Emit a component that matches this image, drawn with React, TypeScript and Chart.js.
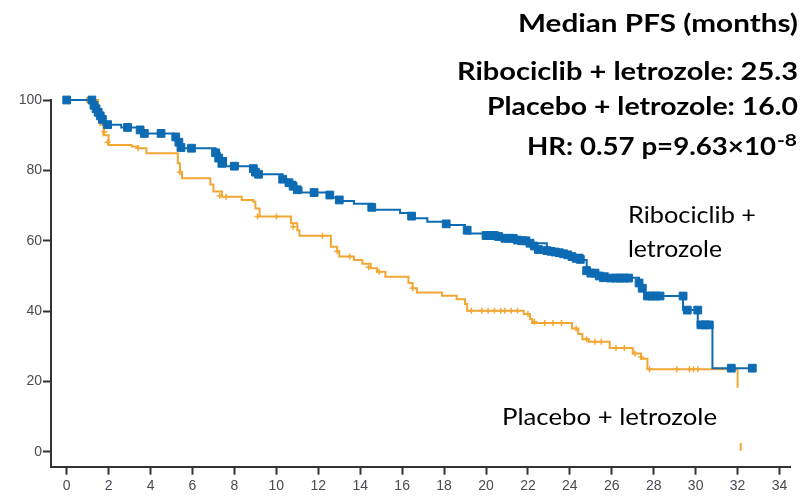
import React, { useEffect, useRef } from 'react';
import { Chart, registerables } from 'chart.js';

Chart.register(...registerables);

// ---- Data ----
const xTickValues = [0, 2, 4, 6, 8, 10, 12, 14, 16, 18, 20, 22, 24, 26, 28, 30, 32, 34];
const yTickValues = [0, 20, 40, 60, 80, 100];

// Ribociclib + letrozole KM curve (months, % PFS)
const ribTime = [0, 1.25, 1.4, 1.55, 1.75, 2.6, 3.5, 3.7, 5.1, 5.3, 5.45, 7.1, 7.3, 7.6, 8.9, 9.1, 10.3, 10.5, 10.9, 11.2, 12.6, 13.0, 13.7, 14.6, 15.9, 16.5, 17.2, 18.1, 19.0, 19.1, 20.0, 20.8, 21.5, 22.1, 22.9, 23.5, 23.9, 24.6, 24.8, 24.9, 25.8, 27.3, 27.6, 29.4, 30.1, 30.8, 32.7];
const ribSurv = [100, 98.5, 97, 95, 93, 92.2, 91, 90.5, 89.5, 88, 86.3, 85, 83.5, 81.2, 80, 78.9, 77.5, 76.8, 75, 73.7, 72.3, 71.3, 70.5, 68.8, 67.9, 66.4, 65.4, 64.5, 63.5, 62.1, 61.5, 60.7, 60, 59.3, 57.4, 56.6, 56, 54.5, 52.5, 50.8, 49.5, 47.4, 44.3, 40.3, 36.1, 23.8, 23.8];
const ribCensTime = [0, 1.2, 1.3, 1.4, 1.5, 1.6, 1.7, 1.95, 2.9, 3.5, 3.7, 4.5, 5.2, 5.35, 5.45, 5.95, 7.1, 7.25, 7.4, 8.0, 8.9, 9.0, 9.15, 10.3, 10.6, 10.8, 11.0, 11.8, 12.55, 13.0, 14.55, 16.45, 18.1, 19.1, 20.0, 20.2, 20.4, 20.6, 20.9, 21.1, 21.3, 21.5, 21.7, 21.9, 22.1, 22.3, 22.5, 22.9, 23.1, 23.3, 23.5, 23.7, 23.9, 24.1, 24.3, 24.5, 24.8, 25.0, 25.2, 25.4, 25.6, 25.95, 26.2, 26.4, 26.6, 26.8, 27.3, 27.45, 27.7, 27.9, 28.1, 28.3, 29.4, 29.6, 30.1, 30.25, 30.45, 30.65, 31.7, 32.7];
const ribCensSurv = [100, 100, 98.5, 97.5, 96.5, 95.5, 94.5, 93, 92.2, 91.5, 90.5, 90.5, 89.5, 88, 86.5, 86.3, 85, 83.5, 82, 81.2, 80.5, 79.5, 78.9, 77.5, 76.5, 75.5, 74.5, 73.7, 73, 71.6, 69.5, 67, 64.8, 63, 61.5, 61.5, 61.5, 61.2, 60.7, 60.7, 60.7, 60.2, 60, 60, 59.3, 58.5, 57.5, 57.2, 57, 56.8, 56.6, 56.3, 56, 55.5, 55, 54.7, 51.5, 50.8, 50.8, 50, 49.5, 49.4, 49.4, 49.4, 49.4, 49.4, 48, 46.5, 44.3, 44.3, 44.3, 44.3, 44.3, 40.3, 40.3, 36.1, 36.1, 36.1, 23.8, 23.8];

// Placebo + letrozole KM curve
const plaTime = [0, 1.5, 1.6, 1.75, 2.0, 3.1, 3.4, 3.8, 5.3, 5.4, 5.5, 6.85, 7.0, 7.4, 8.35, 8.9, 9.0, 9.2, 10.7, 11.0, 11.1, 12.6, 12.9, 13.0, 13.7, 14.1, 14.5, 14.8, 15.2, 16.3, 16.5, 16.7, 17.9, 18.6, 19.0, 19.1, 21.8, 22.1, 22.2, 24.1, 24.4, 24.6, 24.9, 25.9, 27.0, 27.4, 27.7, 32.0];
const plaSurv = [100, 97, 93, 90, 87.2, 86.8, 86.3, 84.9, 82, 79.5, 77.8, 76, 74, 72.5, 71.6, 71.1, 69.2, 66.9, 65, 63, 61.4, 58.3, 57, 55.5, 54.5, 53.5, 52.2, 51.2, 49.8, 48, 46.5, 45.3, 44.4, 43.4, 42, 40.1, 39.2, 37.8, 36.6, 35.1, 33.5, 32, 31.3, 29.5, 28, 26.5, 23.5, 18.2];
const plaTailTime = [32.15, 32.15];
const plaTailSurv = [2.5, 0.3];
const plaCensTime = [0.95, 1.6, 1.8, 1.95, 3.4, 5.4, 7.3, 7.6, 9.1, 10.0, 10.8, 12.2, 12.9, 13.5, 14.4, 14.9, 16.5, 19.3, 19.8, 20.1, 20.4, 20.7, 20.9, 21.2, 21.5, 22.0, 22.3, 22.8, 23.2, 23.6, 24.3, 24.8, 25.2, 25.5, 26.2, 26.6, 27.1, 27.4, 27.8, 29.1, 29.7, 29.9, 30.1];
const plaCensSurv = [100, 95, 91, 88, 86.3, 79.5, 72.8, 72.5, 66.9, 66.9, 64, 61.4, 57, 55.5, 52.5, 51.2, 46.5, 40.1, 40.1, 40.1, 40.1, 40.1, 40.1, 40.1, 40.1, 39.2, 37, 36.6, 36.6, 36.6, 35.1, 32, 31.3, 31.3, 29.5, 29.5, 28, 27, 23.5, 23.5, 23.5, 23.5, 23.5];

// Text
const headerTitle = 'Median PFS (months)';
const headerRib = 'Ribociclib + letrozole: 25.3';
const headerPla = 'Placebo + letrozole: 16.0';
const hrText = 'HR: 0.57 p=9.63×10';
const hrExp = '-8';
const ribLabel = ['Ribociclib +', 'letrozole'];
const plaLabel = 'Placebo + letrozole';

const BLUE = '#0c6bb3';
const ORANGE = '#f2a633';

const zip = (xs: number[], ys: number[]) => xs.map((x, i) => ({ x, y: ys[i] }));

function drawStretched(
  ctx: CanvasRenderingContext2D,
  text: string,
  x: number,
  y: number,
  width: number,
  align: CanvasTextAlign,
) {
  const w = ctx.measureText(text).width;
  const sx = w > 0 ? width / w : 1;
  ctx.save();
  ctx.translate(x, y);
  ctx.scale(sx, 1);
  ctx.textAlign = align;
  ctx.fillText(text, 0, 0);
  ctx.restore();
}

const textPlugin = {
  id: 'kmText',
  afterDraw(chart: any) {
    const ctx = chart.ctx as CanvasRenderingContext2D;
    ctx.save();
    ctx.fillStyle = '#000';
    ctx.textBaseline = 'alphabetic';
    ctx.font = 'bold 24px Lato';
    drawStretched(ctx, headerTitle, 798, 32, 280, 'right');
    drawStretched(ctx, headerRib, 798, 80, 341, 'right');
    drawStretched(ctx, headerPla, 798, 115, 311, 'right');
    drawStretched(ctx, hrText, 776, 155, 249, 'right');
    ctx.font = 'bold 17px Lato';
    drawStretched(ctx, hrExp, 777, 146, 20, 'left');
    ctx.font = '24px Lato';
    drawStretched(ctx, ribLabel[0], 628, 223, 128, 'left');
    drawStretched(ctx, ribLabel[1], 628, 257, 94, 'left');
    drawStretched(ctx, plaLabel, 502, 425, 215, 'left');
    ctx.restore();
  },
};

export default function App() {
  const ref = useRef<HTMLCanvasElement>(null);
  useEffect(() => {
    if (!ref.current) return;
    const chart = new Chart(ref.current, {
      type: 'line',
      data: {
        datasets: [
          {
            data: zip(ribCensTime, ribCensSurv),
            showLine: false,
            pointStyle: 'rect',
            pointRadius: 5.5,
            pointBorderWidth: 1,
            pointBackgroundColor: BLUE,
            pointBorderColor: BLUE,
            clip: false,
          } as any,
          {
            data: zip(ribTime, ribSurv),
            stepped: true,
            borderColor: BLUE,
            borderWidth: 2,
            pointRadius: 0,
            fill: false,
            clip: false,
          },
          {
            data: zip(plaCensTime, plaCensSurv),
            showLine: false,
            pointStyle: 'cross',
            pointRadius: 3,
            pointBorderWidth: 1.5,
            pointBorderColor: ORANGE,
            pointBackgroundColor: ORANGE,
            clip: false,
          } as any,
          {
            data: zip(plaTime, plaSurv),
            stepped: true,
            borderColor: ORANGE,
            borderWidth: 2,
            pointRadius: 0,
            fill: false,
            clip: false,
          },
          {
            data: zip(plaTailTime, plaTailSurv),
            borderColor: ORANGE,
            borderWidth: 2,
            pointRadius: 0,
            fill: false,
            clip: false,
          },
        ],
      },
      options: {
        responsive: false,
        animation: false,
        events: [],
        layout: { padding: { top: 100, right: 16, left: 0, bottom: 0 } },
        plugins: { legend: { display: false }, tooltip: { enabled: false } },
        scales: {
          x: {
            type: 'linear',
            min: -0.75,
            max: 34.5,
            afterBuildTicks: (s: any) => { s.ticks = xTickValues.map((v) => ({ value: v })); },
            afterFit: (s: any) => { s.height = 33.3; },
            border: { display: true, color: '#333', width: 2 },
            grid: { display: true, drawOnChartArea: false, drawTicks: true, tickLength: 8, tickWidth: 2, color: '#333' },
            ticks: { color: '#4a4a55', font: { family: 'Liberation Sans', size: 14 }, padding: 3, maxRotation: 0, autoSkip: false },
          },
          y: {
            type: 'linear',
            min: -4.2,
            max: 100,
            afterBuildTicks: (s: any) => { s.ticks = yTickValues.map((v) => ({ value: v })); },
            afterFit: (s: any) => { s.width = 51; },
            border: { display: true, color: '#333', width: 2 },
            grid: { display: true, drawOnChartArea: false, drawTicks: true, tickLength: 8, tickWidth: 2, color: '#333' },
            ticks: { color: '#4a4a55', font: { family: 'Liberation Sans', size: 14 }, padding: 1, autoSkip: false },
          },
        },
      },
      plugins: [textPlugin],
    } as any);
    return () => chart.destroy();
  }, []);
  return (
    <div style={{ position: 'absolute', left: 0, top: 0, width: 806, height: 500, background: '#fff' }}>
      <canvas ref={ref} width={806} height={500} style={{ display: 'block' }} />
    </div>
  );
}
